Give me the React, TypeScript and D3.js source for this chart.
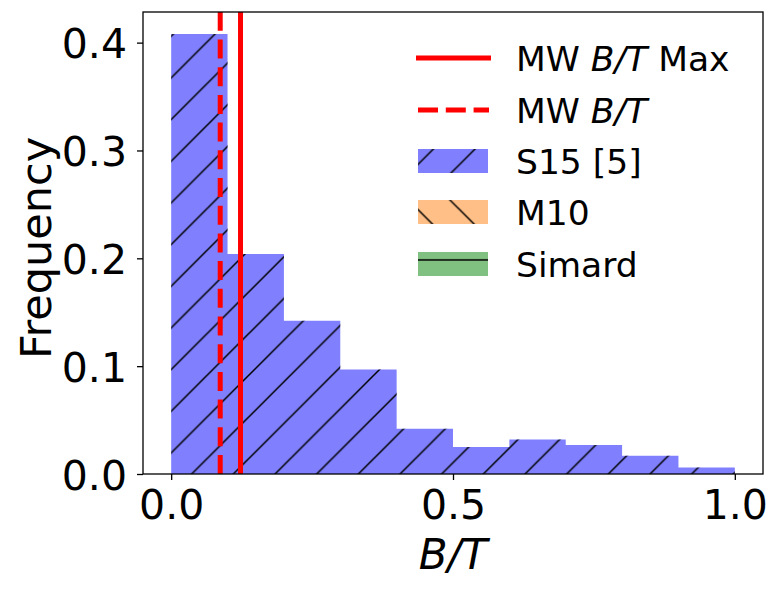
import * as d3 from 'd3';
import { useEffect, useRef } from 'react';

// histogram of bulge-to-total ratio (S15 sample)
const binEdges = [0, 0.1, 0.2, 0.3, 0.4, 0.5, 0.6, 0.7, 0.8, 0.9, 1.0];
const frequencies = [0.408, 0.204, 0.142, 0.097, 0.042, 0.025, 0.032, 0.027, 0.017, 0.006];
const mwBT = 0.087;
const mwBTMax = 0.123;
const xTicks = [0, 0.5, 1.0];
const yTicks = [0, 0.1, 0.2, 0.3, 0.4];
const legendLabels = ['MW B/T Max', 'MW B/T', 'S15 [5]', 'M10', 'Simard'];

const FONT = '"DejaVu Sans", sans-serif';
const W = 781;
const H = 590;
const HATCH = 41.67;

export default function App() {
  const svgRef = useRef<SVGSVGElement>(null);

  useEffect(() => {
    if (!svgRef.current) return;
    const svg = d3.select(svgRef.current);
    svg.selectAll('*').remove();

    const margin = { top: 12, right: 18, bottom: 116, left: 143 };
    const x0 = margin.left, x1 = W - margin.right;
    const y0 = H - margin.bottom, y1 = margin.top;

    const xScale = d3.scaleLinear().domain([-0.05, 1.05]).range([x0, x1]);
    const yMax = (d3.max(frequencies) ?? 1) * 1.05;
    const yScale = d3.scaleLinear().domain([0, yMax]).range([y0, y1]);

    const defs = svg.append('defs');
    defs.append('clipPath').attr('id', 'plotClip')
      .append('rect').attr('x', x0).attr('y', y1).attr('width', x1 - x0).attr('height', y0 - y1);

    const P = HATCH;
    const hatchStroke = 1.5;
    // '/' hatch
    defs.append('pattern').attr('id', 'hatchNE').attr('patternUnits', 'userSpaceOnUse')
      .attr('x', -1).attr('width', P).attr('height', P)
      .append('path')
      .attr('d', `M-2,2 L2,-2 M0,${P} L${P},0 M${P - 2},${P + 2} L${P + 2},${P - 2}`)
      .attr('stroke', '#000').attr('stroke-width', hatchStroke).attr('fill', 'none');
    // '\' hatch
    defs.append('pattern').attr('id', 'hatchNW').attr('patternUnits', 'userSpaceOnUse')
      .attr('width', P).attr('height', P)
      .append('path')
      .attr('d', `M0,0 L${P},${P} M${P - 2},-2 L${P + 2},2 M-2,${P - 2} L2,${P + 2}`)
      .attr('stroke', '#000').attr('stroke-width', hatchStroke).attr('fill', 'none');
    // '-' hatch
    defs.append('pattern').attr('id', 'hatchH').attr('patternUnits', 'userSpaceOnUse')
      .attr('width', P).attr('height', P)
      .append('path')
      .attr('d', `M0,10 L${P},10`)
      .attr('stroke', '#000').attr('stroke-width', hatchStroke).attr('fill', 'none');

    // stepfilled histogram outline
    const pts: [number, number][] = [[binEdges[0], 0]];
    frequencies.forEach((f, i) => {
      pts.push([binEdges[i], f]);
      pts.push([binEdges[i + 1], f]);
    });
    pts.push([binEdges[binEdges.length - 1], 0]);
    const stepPath = d3.line<[number, number]>()
      .x(d => xScale(d[0]))
      .y(d => yScale(d[1]))(pts) + 'Z';

    svg.append('path').attr('d', stepPath).attr('fill', '#8080ff');
    svg.append('path').attr('d', stepPath).attr('fill', 'url(#hatchNE)');

    // Milky Way lines
    const lines = svg.append('g').attr('clip-path', 'url(#plotClip)');
    lines.append('line')
      .attr('x1', xScale(mwBT)).attr('x2', xScale(mwBT))
      .attr('y1', y0).attr('y2', y1)
      .attr('stroke', '#ff0000').attr('stroke-width', 5)
      .attr('stroke-dasharray', '19 8.7');
    lines.append('line')
      .attr('x1', xScale(mwBTMax)).attr('x2', xScale(mwBTMax))
      .attr('y1', y0).attr('y2', y1)
      .attr('stroke', '#ff0000').attr('stroke-width', 5);

    // frame
    svg.append('rect')
      .attr('x', x0).attr('y', y1).attr('width', x1 - x0).attr('height', y0 - y1)
      .attr('fill', 'none').attr('stroke', '#000').attr('stroke-width', 1.3);

    // axes
    const xAxis = svg.append('g')
      .attr('transform', `translate(0,${y0})`)
      .call(d3.axisBottom(xScale).tickValues(xTicks).tickSize(6).tickPadding(10).tickFormat(d3.format('.1f')));
    xAxis.select('.domain').remove();

    const yAxis = svg.append('g')
      .attr('transform', `translate(${x0},0)`)
      .call(d3.axisLeft(yScale).tickValues(yTicks).tickSize(6).tickPadding(10).tickFormat(d3.format('.1f')));
    yAxis.select('.domain').remove();
    yAxis.selectAll('text').attr('dy', '0.37em');

    for (const ax of [xAxis, yAxis]) {
      ax.attr('font-family', FONT).attr('font-size', 41).attr('color', '#000');
      ax.selectAll('line').attr('stroke-width', 1.3);
    }

    // axis labels
    const xl = svg.append('text')
      .attr('x', (x0 + x1) / 2).attr('y', 569)
      .attr('text-anchor', 'middle')
      .style('font-family', FONT).style('font-size', '42px');
    xl.append('tspan').attr('font-style', 'italic').text('B/T');

    svg.append('text')
      .attr('transform', `translate(51,${(y0 + y1) / 2 + 5}) rotate(-90)`)
      .attr('text-anchor', 'middle')
      .style('font-family', FONT).style('font-size', '43px')
      .text('Frequency');

    // legend
    const leg = svg.append('g');
    const rows = [58, 110, 161, 212, 264];
    leg.append('line')
      .attr('x1', 418.5).attr('x2', 488.5).attr('y1', rows[0]).attr('y2', rows[0])
      .attr('stroke', '#ff0000').attr('stroke-width', 5).attr('stroke-linecap', 'square');
    leg.append('line')
      .attr('x1', 418).attr('x2', 489).attr('y1', rows[1]).attr('y2', rows[1])
      .attr('stroke', '#ff0000').attr('stroke-width', 5).attr('stroke-dasharray', '20 7.8');

    const patches = [
      { row: rows[2], color: '#8080ff', hatch: 'url(#hatchNE)' },
      { row: rows[3], color: '#ffbf86', hatch: 'url(#hatchNW)' },
      { row: rows[4], color: '#80c080', hatch: 'url(#hatchH)' },
    ];
    for (const p of patches) {
      leg.append('rect').attr('x', 418).attr('y', p.row - 12).attr('width', 70).attr('height', 24).attr('fill', p.color);
      leg.append('rect').attr('x', 418).attr('y', p.row - 12).attr('width', 70).attr('height', 24).attr('fill', p.hatch);
    }

    legendLabels.forEach((label, i) => {
      const t = leg.append('text')
        .attr('x', 516).attr('y', rows[i] + 13)
        .style('font-family', FONT).style('font-size', '34.5px');
      const m = label.match(/^(.*?)(B\/T)(.*)$/);
      if (m) {
        t.append('tspan').text(m[1]);
        t.append('tspan').attr('font-style', 'italic').text(m[2]);
        if (m[3]) t.append('tspan').text(m[3]);
      } else {
        t.text(label);
      }
    });
  }, []);

  return (
    <svg
      ref={svgRef}
      width={W}
      height={H}
      style={{ position: 'absolute', left: 0, top: 0, background: '#fff' }}
    />
  );
}
